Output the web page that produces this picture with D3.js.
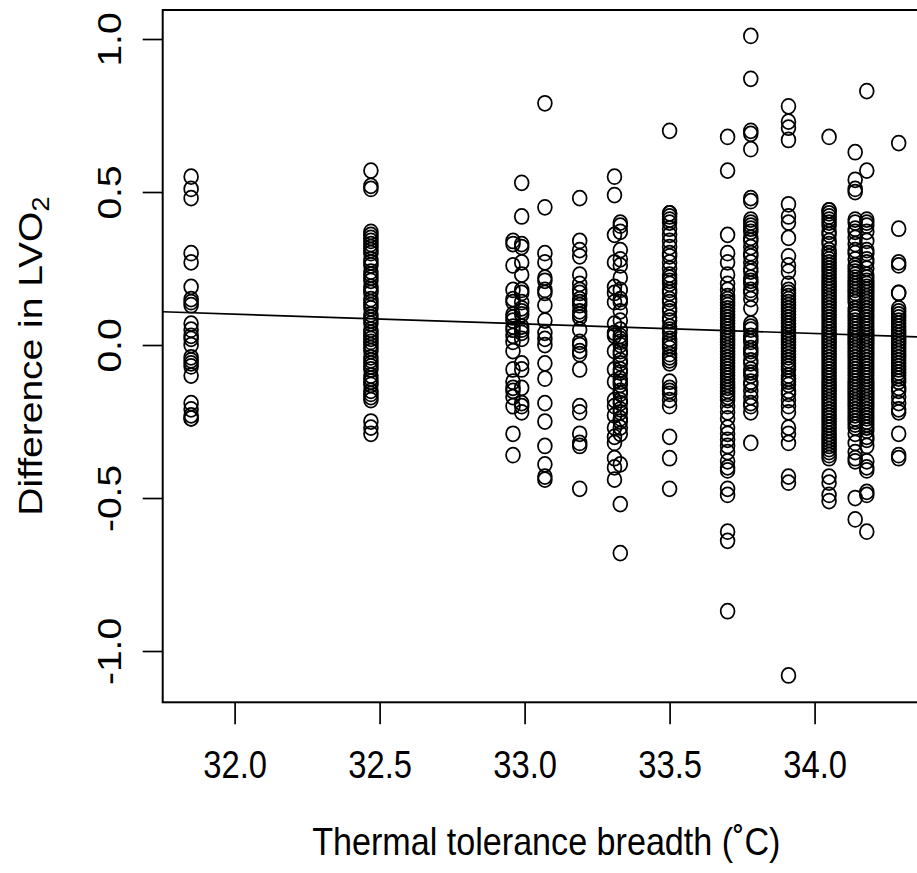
<!DOCTYPE html>
<html>
<head>
<meta charset="utf-8">
<script src="https://cdn.jsdelivr.net/npm/d3@7"></script>
<style>
  body { margin: 0; background: #fff; }
  svg { display: block; }
  text { font-family: "Liberation Sans", Arial, Helvetica, sans-serif; fill: #000; }
</style>
</head>
<body>
<script>
// x positions of the groups (thermal tolerance breadth, deg C)
var breadths = [31.85, 32.47, 32.96, 32.99, 33.07, 33.19, 33.31, 33.33, 33.50, 33.70, 33.78, 33.91, 34.05, 34.14, 34.18, 34.29];

// difference in LVO2, one list per group
var g3185 = [0.55, 0.51, 0.48, 0.30, 0.27, 0.19, 0.15, 0.14, 0.13, 0.07, 0.05, 0.03, 0.02, 0.00, -0.04, -0.05, -0.06, -0.07, -0.10, -0.19, -0.21, -0.23, -0.24, -0.24];
var g3247 = [0.57, 0.52, 0.51, 0.37, 0.36, 0.35, 0.34, 0.33, 0.32, 0.31, 0.30, 0.28, 0.27, 0.26, 0.24, 0.23, 0.22, 0.21, 0.19, 0.18, 0.17, 0.15, 0.14, 0.13, 0.12, 0.10, 0.09, 0.08, 0.07, 0.05, 0.04, 0.03, 0.02, 0.01, 0.00, -0.01, -0.02, -0.04, -0.05, -0.06, -0.07, -0.08, -0.10, -0.11, -0.12, -0.13, -0.15, -0.16, -0.17, -0.18, -0.25, -0.27, -0.29];
var g3296 = [0.34, 0.33, 0.26, 0.18, 0.15, 0.14, 0.10, 0.09, 0.08, 0.06, 0.05, 0.03, 0.01, -0.02, -0.08, -0.12, -0.14, -0.15, -0.17, -0.20, -0.29, -0.36];
var g3299 = [0.53, 0.42, 0.33, 0.32, 0.27, 0.23, 0.18, 0.17, 0.14, 0.12, 0.11, 0.10, 0.06, 0.05, 0.04, 0.02, -0.06, -0.08, -0.14, -0.19, -0.20, -0.22];
var g3307 = [0.79, 0.45, 0.30, 0.27, 0.22, 0.21, 0.18, 0.17, 0.13, 0.08, 0.04, 0.02, 0.00, -0.06, -0.11, -0.19, -0.25, -0.33, -0.39, -0.43, -0.44];
var g3319 = [0.48, 0.34, 0.31, 0.29, 0.23, 0.20, 0.18, 0.17, 0.15, 0.14, 0.13, 0.11, 0.10, 0.09, 0.05, 0.01, 0.00, -0.02, -0.03, -0.08, -0.20, -0.22, -0.29, -0.32, -0.33, -0.47];
var g3331 = [0.55, 0.49, 0.36, 0.27, 0.19, 0.17, 0.14, 0.07, 0.04, 0.03, -0.02, -0.08, -0.12, -0.18, -0.20, -0.23, -0.27, -0.30, -0.32, -0.37, -0.40, -0.44];
var g3333 = [0.40, 0.39, 0.37, 0.31, 0.28, 0.26, 0.22, 0.18, 0.15, 0.14, 0.11, 0.08, 0.05, 0.03, 0.02, 0.01, 0.00, -0.02, -0.03, -0.05, -0.06, -0.08, -0.09, -0.11, -0.12, -0.13, -0.15, -0.16, -0.18, -0.19, -0.21, -0.22, -0.24, -0.25, -0.27, -0.29, -0.39, -0.52, -0.68];
var g3350 = [0.70, 0.43, 0.43, 0.42, 0.41, 0.40, 0.38, 0.36, 0.34, 0.32, 0.30, 0.29, 0.27, 0.25, 0.23, 0.22, 0.21, 0.20, 0.18, 0.17, 0.15, 0.14, 0.12, 0.11, 0.09, 0.08, 0.06, 0.05, 0.04, 0.02, 0.01, 0.00, -0.01, -0.03, -0.04, -0.05, -0.06, -0.12, -0.14, -0.15, -0.16, -0.18, -0.20, -0.30, -0.37, -0.47];
var g3370 = [0.68, 0.57, 0.36, 0.30, 0.27, 0.23, 0.20, 0.18, 0.16, 0.15, 0.14, 0.13, 0.12, 0.11, 0.10, 0.09, 0.08, 0.07, 0.06, 0.05, 0.04, 0.03, 0.02, 0.01, 0.00, -0.01, -0.02, -0.03, -0.04, -0.05, -0.06, -0.07, -0.08, -0.09, -0.10, -0.11, -0.12, -0.13, -0.14, -0.15, -0.16, -0.17, -0.18, -0.20, -0.22, -0.24, -0.27, -0.29, -0.31, -0.33, -0.35, -0.38, -0.40, -0.41, -0.47, -0.49, -0.61, -0.64, -0.87];
var g3378 = [1.01, 0.87, 0.70, 0.69, 0.64, 0.48, 0.47, 0.41, 0.40, 0.39, 0.38, 0.37, 0.35, 0.34, 0.32, 0.30, 0.29, 0.27, 0.25, 0.24, 0.22, 0.21, 0.20, 0.18, 0.17, 0.15, 0.12, 0.07, 0.06, 0.05, 0.03, 0.02, 0.01, -0.01, -0.02, -0.03, -0.05, -0.06, -0.08, -0.09, -0.10, -0.12, -0.13, -0.15, -0.17, -0.19, -0.20, -0.22, -0.32];
var g3391 = [0.78, 0.73, 0.71, 0.67, 0.46, 0.42, 0.40, 0.35, 0.29, 0.26, 0.24, 0.20, 0.18, 0.17, 0.16, 0.15, 0.14, 0.13, 0.12, 0.11, 0.10, 0.09, 0.08, 0.07, 0.06, 0.05, 0.04, 0.03, 0.02, 0.01, 0.00, -0.01, -0.02, -0.03, -0.04, -0.05, -0.06, -0.07, -0.08, -0.10, -0.11, -0.12, -0.13, -0.15, -0.16, -0.18, -0.20, -0.22, -0.27, -0.29, -0.32, -0.43, -0.45, -1.08];
var g3405 = [0.68, 0.44, 0.44, 0.43, 0.42, 0.41, 0.40, 0.39, 0.37, 0.36, 0.34, 0.33, 0.31, 0.30, 0.29, 0.28, 0.27, 0.26, 0.25, 0.24, 0.23, 0.22, 0.21, 0.20, 0.19, 0.18, 0.17, 0.16, 0.15, 0.14, 0.13, 0.12, 0.11, 0.10, 0.09, 0.08, 0.07, 0.06, 0.05, 0.04, 0.03, 0.02, 0.01, 0.00, -0.01, -0.02, -0.03, -0.04, -0.05, -0.06, -0.07, -0.08, -0.09, -0.10, -0.11, -0.12, -0.13, -0.14, -0.15, -0.16, -0.17, -0.18, -0.19, -0.20, -0.21, -0.22, -0.23, -0.24, -0.25, -0.26, -0.27, -0.28, -0.29, -0.30, -0.31, -0.32, -0.33, -0.34, -0.35, -0.36, -0.37, -0.43, -0.45, -0.49, -0.51];
var g3414 = [0.63, 0.54, 0.51, 0.50, 0.41, 0.40, 0.38, 0.37, 0.35, 0.33, 0.31, 0.30, 0.28, 0.26, 0.25, 0.24, 0.23, 0.22, 0.21, 0.20, 0.19, 0.18, 0.17, 0.16, 0.15, 0.14, 0.12, 0.11, 0.10, 0.09, 0.08, 0.07, 0.06, 0.05, 0.04, 0.03, 0.02, 0.01, 0.00, -0.01, -0.02, -0.03, -0.04, -0.05, -0.06, -0.07, -0.08, -0.09, -0.10, -0.11, -0.12, -0.13, -0.14, -0.15, -0.16, -0.17, -0.18, -0.19, -0.20, -0.21, -0.22, -0.23, -0.24, -0.25, -0.26, -0.27, -0.29, -0.32, -0.35, -0.37, -0.38, -0.50, -0.57];
var g3418 = [0.83, 0.57, 0.41, 0.40, 0.39, 0.37, 0.34, 0.31, 0.30, 0.28, 0.27, 0.25, 0.23, 0.22, 0.21, 0.20, 0.19, 0.18, 0.17, 0.16, 0.15, 0.14, 0.13, 0.12, 0.11, 0.10, 0.09, 0.08, 0.07, 0.06, 0.05, 0.04, 0.03, 0.02, 0.01, 0.00, -0.01, -0.02, -0.03, -0.04, -0.05, -0.06, -0.07, -0.08, -0.09, -0.10, -0.11, -0.12, -0.13, -0.14, -0.15, -0.16, -0.17, -0.18, -0.19, -0.20, -0.21, -0.22, -0.23, -0.24, -0.25, -0.26, -0.27, -0.28, -0.30, -0.31, -0.33, -0.38, -0.40, -0.41, -0.48, -0.49, -0.61];
var g3429 = [0.66, 0.38, 0.27, 0.26, 0.17, 0.17, 0.12, 0.11, 0.10, 0.09, 0.08, 0.07, 0.06, 0.05, 0.04, 0.03, 0.02, 0.01, 0.00, -0.01, -0.02, -0.03, -0.04, -0.05, -0.06, -0.07, -0.08, -0.09, -0.10, -0.11, -0.12, -0.14, -0.15, -0.17, -0.19, -0.21, -0.22, -0.29, -0.36, -0.37];

var groups = [g3185, g3247, g3296, g3299, g3307, g3319, g3331, g3333, g3350, g3370, g3378, g3391, g3405, g3414, g3418, g3429];

// fitted line: y = a + b * x
var fitIntercept = 1.112;
var fitSlope = -0.0316;

var xTicks = [32.0, 32.5, 33.0, 33.5, 34.0];
var yTicks = [-1.0, -0.5, 0.0, 0.5, 1.0];

var xLabel = "Thermal tolerance breadth (\u02DAC)";

var W = 917, H = 873;
var plotL = 162.7, plotR = 930, plotT = 10, plotB = 702.3;
var sx = 0.84; // horizontal squeeze of the text in the picture
var fmt = function (d) { return d.toFixed(1); }; // plain hyphen minus, like R

var points = [];
groups.forEach(function (vals, i) {
  vals.forEach(function (v) { points.push({ x: breadths[i], y: v }); });
});

var x = d3.scaleLinear().domain([31.752, 34.398]).range([plotL, plotR]);
var y = d3.scaleLinear().domain([-1.1676, 1.0948]).range([plotB, plotT]);

var svg = d3.select('body').append('svg')
  .attr('width', W)
  .attr('height', H);

// points
svg.append('g')
  .selectAll('ellipse')
  .data(points)
  .enter()
  .append('ellipse')
  .attr('cx', function (d) { return x(d.x); })
  .attr('cy', function (d) { return y(d.y); })
  .attr('rx', 6.9)
  .attr('ry', 7.5)
  .attr('fill', 'none')
  .attr('stroke', '#000')
  .attr('stroke-width', 1.75);

// fitted line across the plot region
var x0 = x.domain()[0], x1 = x.domain()[1];
svg.append('line')
  .attr('x1', x(x0)).attr('y1', y(fitIntercept + fitSlope * x0))
  .attr('x2', x(x1)).attr('y2', y(fitIntercept + fitSlope * x1))
  .attr('stroke', '#000')
  .attr('stroke-width', 1.7);

// box
svg.append('rect')
  .attr('x', plotL).attr('y', plotT)
  .attr('width', plotR - plotL).attr('height', plotB - plotT)
  .attr('fill', 'none')
  .attr('stroke', '#000')
  .attr('stroke-width', 2);

// x axis
var gx = svg.append('g')
  .attr('transform', 'translate(0,' + plotB + ')')
  .call(d3.axisBottom(x).tickValues(xTicks).tickSize(22).tickFormat(fmt));
gx.select('.domain').remove();
gx.selectAll('line').attr('stroke', '#000').attr('stroke-width', 1.7);
gx.selectAll('text')
  .attr('y', 76)
  .attr('dy', 0)
  .attr('font-size', 39)
  .attr('font-family', '"Liberation Sans", Arial, sans-serif')
  .attr('transform', 'scale(' + sx + ',1)');

// y axis
var gy = svg.append('g')
  .attr('transform', 'translate(' + plotL + ',0)')
  .call(d3.axisLeft(y).tickValues(yTicks).tickSize(20).tickFormat(fmt));
gy.select('.domain').remove();
gy.selectAll('line').attr('stroke', '#000').attr('stroke-width', 1.7);
gy.selectAll('text')
  .attr('x', 0)
  .attr('dy', 0)
  .attr('text-anchor', 'middle')
  .attr('font-size', 39)
  .attr('font-family', '"Liberation Sans", Arial, sans-serif')
  .attr('transform', 'translate(-42,0) scale(0.87,1) rotate(-90)');

// axis titles
svg.append('text')
  .attr('text-anchor', 'middle')
  .attr('font-size', 39)
  .attr('transform', 'translate(' + ((plotL + plotR) / 2) + ',855) scale(0.875,1)')
  .text(xLabel);

var yt = svg.append('text')
  .attr('text-anchor', 'middle')
  .attr('font-size', 39)
  .attr('transform', 'translate(42,' + ((plotT + plotB) / 2) + ') scale(0.87,1) rotate(-90)');
yt.append('tspan').text('Difference in LVO');
yt.append('tspan').attr('font-size', 27).attr('dy', 8).text('2');
</script>
</body>
</html>
